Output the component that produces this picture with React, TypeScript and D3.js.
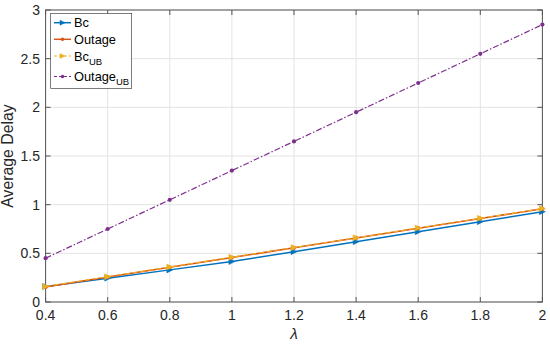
import React from "react";
import * as d3 from "d3";

const lambdas = [0.4, 0.6, 0.8, 1.0, 1.2, 1.4, 1.6, 1.8, 2.0];
const bc = [0.16, 0.245, 0.33, 0.415, 0.517, 0.62, 0.722, 0.825, 0.928];
const outage = [0.155, 0.257, 0.357, 0.456, 0.557, 0.658, 0.758, 0.858, 0.957];
const bcUB = [0.16, 0.26, 0.36, 0.46, 0.56, 0.66, 0.76, 0.86, 0.96];
const outageUB = [0.45, 0.75, 1.05, 1.35, 1.65, 1.95, 2.25, 2.55, 2.85];
const xTicks = [0.4, 0.6, 0.8, 1, 1.2, 1.4, 1.6, 1.8, 2];
const yTicks = [0, 0.5, 1, 1.5, 2, 2.5, 3];

type Series = { name: string; sub?: string; values: number[]; color: string; dash: string; marker: "tri" | "dot"; width: number };
const series: Series[] = [
  { name: "Bc", values: bc, color: "#0072BD", dash: "", marker: "tri", width: 1.5 },
  { name: "Outage", values: outage, color: "#D95319", dash: "", marker: "dot", width: 1.5 },
  { name: "Bc", sub: "UB", values: bcUB, color: "#EDB120", dash: "5,3", marker: "tri", width: 1.2 },
  { name: "Outage", sub: "UB", values: outageUB, color: "#7E2F8E", dash: "6,2,1.5,2", marker: "dot", width: 1.2 },
];

const W = 550, H = 345;
const L = 45.6, R = 542.4, T = 10, B = 302;

function Marker({ type, x, y, color, s = 3 }: { type: string; x: number; y: number; color: string; s?: number }) {
  if (type === "tri") {
    return <path d={`M${x + s},${y} L${x - s},${y - s} L${x - s},${y + s} Z`} fill={color} stroke={color} strokeWidth={0.5} />;
  }
  return <circle cx={x} cy={y} r={s * 0.7} fill={color} />;
}

export default function App() {
  const x = d3.scaleLinear().domain([0.4, 2]).range([L, R]);
  const y = d3.scaleLinear().domain([0, 3]).range([B, T]);
  const font = "'Liberation Sans', Arial, Helvetica, sans-serif";
  const txt = "#262626";
  const axisCol = "#555";
  const line = d3.line<number>().x((_, i) => x(lambdas[i])).y((v) => y(v));

  const legX = 50.7, legY = 13.3, legW = 81, legH = 75;
  const legRows = [22.7, 39.3, 56, 76.5];

  return (
    <svg width={W} height={H} style={{ position: "absolute", left: 0, top: 0, fontFamily: font }}>
      <rect x={0} y={0} width={W} height={H} fill="#fff" />
      {xTicks.map((t) => (
        <line key={"gx" + t} x1={x(t)} x2={x(t)} y1={T} y2={B} stroke="#e3e3e3" strokeWidth={1} />
      ))}
      {yTicks.map((t) => (
        <line key={"gy" + t} x1={L} x2={R} y1={y(t)} y2={y(t)} stroke="#e3e3e3" strokeWidth={1} />
      ))}
      <rect x={L} y={T} width={R - L} height={B - T} fill="none" stroke={axisCol} strokeWidth={1} />
      {xTicks.map((t) => (
        <g key={"tx" + t}>
          <line x1={x(t)} x2={x(t)} y1={B} y2={B - 5} stroke={axisCol} />
          <line x1={x(t)} x2={x(t)} y1={T} y2={T + 5} stroke={axisCol} />
          <text x={x(t)} y={320} textAnchor="middle" fontSize={14} fill={txt}>{String(t)}</text>
        </g>
      ))}
      {yTicks.map((t) => (
        <g key={"ty" + t}>
          <line x1={L} x2={L + 5} y1={y(t)} y2={y(t)} stroke={axisCol} />
          <line x1={R} x2={R - 5} y1={y(t)} y2={y(t)} stroke={axisCol} />
          <text x={40} y={y(t) + 5} textAnchor="end" fontSize={14} fill={txt}>{String(t)}</text>
        </g>
      ))}
      {series.map((s, si) => (
        <g key={"s" + si}>
          <path d={line(s.values) || ""} fill="none" stroke={s.color} strokeWidth={s.width} strokeDasharray={s.dash} />
          {s.values.map((v, i) => (
            <Marker key={i} type={s.marker} x={x(lambdas[i])} y={y(v)} color={s.color} />
          ))}
        </g>
      ))}
      <text x={(L + R) / 2} y={339} textAnchor="middle" fontSize={15.4} fill={txt} fontStyle="italic">λ</text>
      <text transform={`translate(13,${(T + B) / 2}) rotate(-90)`} textAnchor="middle" fontSize={15.8} fill={txt}>Average Delay</text>
      <rect x={legX} y={legY} width={legW} height={legH} fill="#fff" stroke="#262626" strokeWidth={0.6} />
      {series.map((s, i) => {
        const ly = legRows[i];
        return (
          <g key={"l" + i}>
            <line x1={54} x2={71} y1={ly} y2={ly} stroke={s.color} strokeWidth={s.width} strokeDasharray={s.dash ? "3,2" : ""} />
            <Marker type={s.marker} x={62.5} y={ly} color={s.color} s={2.5} />
            <text x={74} y={ly + 4.5} fontSize={12.8} fill="#000">
              {s.name}
              {s.sub && <tspan fontSize={9.5} dy={4}>{s.sub}</tspan>}
            </text>
          </g>
        );
      })}
    </svg>
  );
}
